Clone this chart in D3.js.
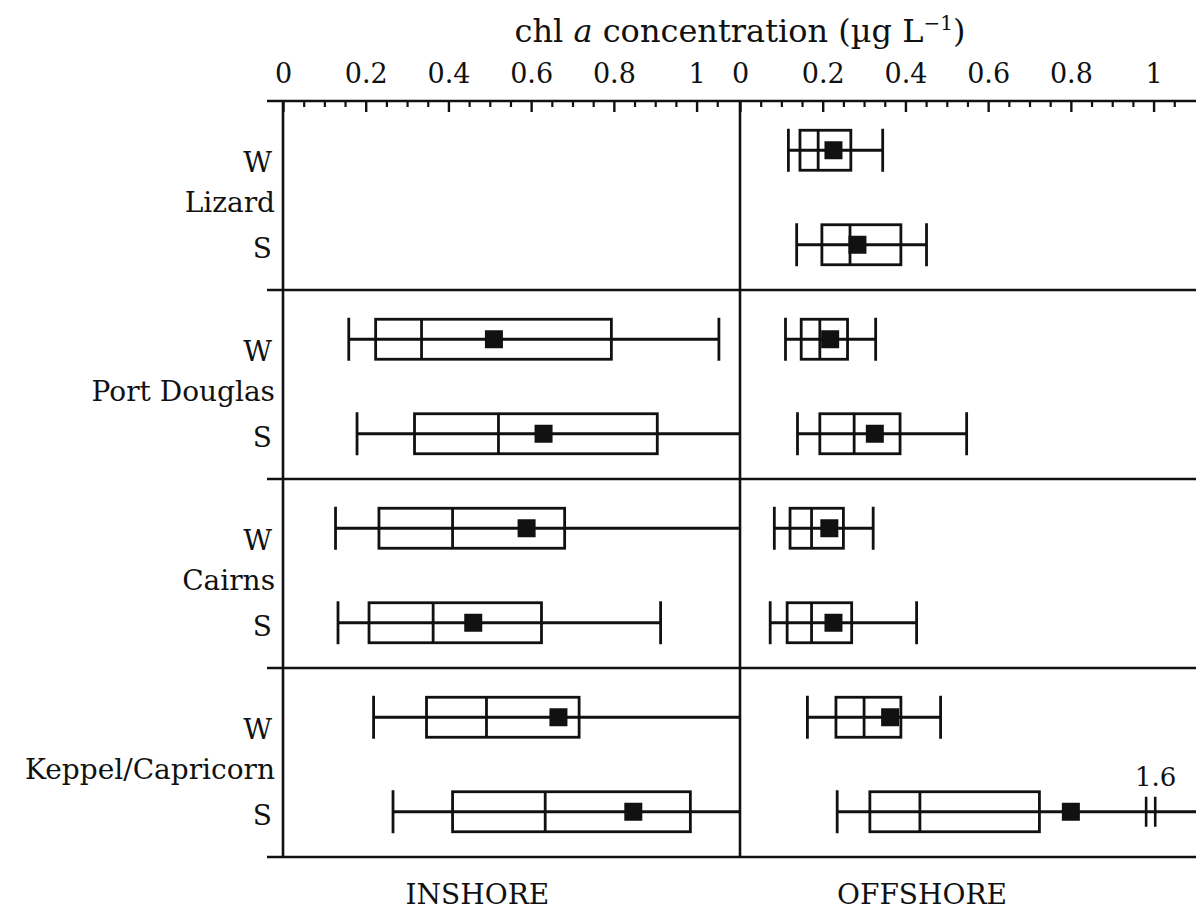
<!DOCTYPE html>
<html>
<head>
<meta charset="utf-8">
<script src="https://cdn.jsdelivr.net/npm/d3@7"></script>
<style>
  html, body { margin: 0; padding: 0; background: #fff; }
  svg text { font-family: "DejaVu Serif", serif; fill: #111; }
</style>
</head>
<body>
<script>
// ---------- data ----------
const groups = ["Lizard", "Port Douglas", "Cairns", "Keppel/Capricorn"];
const seasons = ["W", "S"];
const majorTicks = [0, 0.2, 0.4, 0.6, 0.8, 1];
const tickLabels = ["0", "0.2", "0.4", "0.6", "0.8", "1"];
const minorTicks = [0.05,0.1,0.15,0.25,0.3,0.35,0.45,0.5,0.55,0.65,0.7,0.75,0.85,0.9,0.95,1.05];
const panels = ["INSHORE", "OFFSHORE"];

// rows in order: Lizard W, Lizard S, Port Douglas W, S, Cairns W, S, Keppel W, S
const inshoreLow    = [null, null, 0.159, 0.179, 0.127, 0.133, 0.219, 0.266];
const inshoreQ1     = [null, null, 0.224, 0.318, 0.232, 0.208, 0.347, 0.410];
const inshoreMedian = [null, null, 0.335, 0.521, 0.410, 0.363, 0.492, 0.634];
const inshoreMean   = [null, null, 0.510, 0.630, 0.589, 0.460, 0.666, 0.847];
const inshoreQ3     = [null, null, 0.794, 0.905, 0.681, 0.625, 0.716, 0.985];
const inshoreHigh   = [null, null, 1.054, 1.2,   1.2,   0.913, 1.2,   1.2  ];

const offshoreLow    = [0.117, 0.137, 0.110, 0.139, 0.083, 0.073, 0.163, 0.235];
const offshoreQ1     = [0.145, 0.198, 0.148, 0.193, 0.121, 0.114, 0.232, 0.314];
const offshoreMedian = [0.189, 0.266, 0.193, 0.276, 0.173, 0.173, 0.300, 0.435];
const offshoreMean   = [0.226, 0.284, 0.218, 0.326, 0.216, 0.226, 0.363, 0.800];
const offshoreQ3     = [0.268, 0.389, 0.260, 0.387, 0.250, 0.270, 0.389, 0.724];
const offshoreHigh   = [0.345, 0.451, 0.328, 0.548, 0.322, 0.427, 0.485, 1.6  ];

// axis break (offshore Keppel/Capricorn S whisker reaches 1.6)
const breakRow = 7;
const breakAt = [0.982, 1.004];
const breakLabel = "1.6";

// ---------- layout ----------
const W = 1196, H = 911;
const yTop = 101, yBottom = 857;
const xMax = 1.105;

const svg = d3.select("body").append("svg").attr("width", W).attr("height", H);

const xIn  = d3.scaleLinear().domain([0, xMax]).range([283, 740]).clamp(true);
const xOff = d3.scaleLinear().domain([0, xMax]).range([740, 1197]).clamp(true);
const yGroup = d3.scaleBand().domain(groups).range([yTop, yBottom]);
const ySeason = d3.scalePoint().domain(seasons).range([0, yGroup.bandwidth()]).padding(0.5);

function rowY(i) {
  const g = groups[Math.floor(i / 2)], s = seasons[i % 2];
  return yGroup(g) + ySeason(s) + 2;
}

function makeRows(low, q1, med, mean, q3, high) {
  return low.map((d, i) => ({ i, low: d, q1: q1[i], med: med[i], mean: mean[i], q3: q3[i], high: high[i] }))
            .filter(d => d.low != null);
}
const inRows  = makeRows(inshoreLow, inshoreQ1, inshoreMedian, inshoreMean, inshoreQ3, inshoreHigh);
const offRows = makeRows(offshoreLow, offshoreQ1, offshoreMedian, offshoreMean, offshoreQ3, offshoreHigh);

// ---------- frame ----------
const frame = svg.append("g").attr("stroke", "#111").attr("stroke-width", 2.6);
const hLines = groups.map(g => yGroup(g)).concat([yBottom]);
frame.selectAll("line.h").data(hLines).join("line").attr("class", "h")
  .attr("x1", 267).attr("x2", W).attr("y1", d => d).attr("y2", d => d);
frame.selectAll("line.v").data([xIn(0), xOff(0)]).join("line").attr("class", "v")
  .attr("x1", d => d).attr("x2", d => d).attr("y1", yTop).attr("y2", yBottom);

// ---------- axes ----------
[xIn, xOff].forEach(x => {
  const gMaj = svg.append("g").attr("transform", `translate(0,${yTop})`)
    .call(d3.axisTop(x).tickValues(majorTicks).tickFormat((d, i) => tickLabels[i])
      .tickSizeInner(-11).tickSizeOuter(0).tickPadding(18));
  gMaj.select(".domain").remove();
  gMaj.selectAll(".tick line").attr("stroke", "#111").attr("stroke-width", 2.4);
  gMaj.selectAll(".tick text").attr("font-family", "DejaVu Serif").attr("font-size", 27).attr("fill", "#111");
  const gMin = svg.append("g").attr("transform", `translate(0,${yTop})`)
    .call(d3.axisTop(x).tickValues(minorTicks).tickFormat("").tickSizeInner(-6).tickSizeOuter(0));
  gMin.select(".domain").remove();
  gMin.selectAll(".tick line").attr("stroke", "#111").attr("stroke-width", 2.2);
});

// ---------- title ----------
const title = svg.append("text").attr("x", 740).attr("y", 42).attr("text-anchor", "middle")
  .attr("font-size", 32);
title.append("tspan").text("chl ");
title.append("tspan").attr("font-style", "italic").text("a");
title.append("tspan").text(" concentration (µg L");
title.append("tspan").attr("font-size", 20).attr("dy", -12).text("−1");
title.append("tspan").attr("dy", 12).text(")");

// ---------- row labels ----------
const lab = svg.append("g").attr("font-size", 28).attr("text-anchor", "end");
groups.forEach(g => {
  const y0 = yGroup(g), bw = yGroup.bandwidth();
  lab.append("text").attr("x", 272).attr("y", y0 + bw * 0.32).attr("dy", "0.36em").text(seasons[0]);
  lab.append("text").attr("x", 275).attr("y", y0 + bw * 0.532).attr("dy", "0.36em").text(g);
  lab.append("text").attr("x", 272).attr("y", y0 + bw * 0.778).attr("dy", "0.36em").text(seasons[1]);
});

// ---------- panel labels ----------
svg.append("g").attr("font-size", 28).attr("text-anchor", "middle")
  .selectAll("text").data(panels).join("text")
  .attr("x", (d, i) => (i === 0 ? xIn(0.47) : xOff(0.44)))
  .attr("y", 904).text(d => d);

// ---------- box plots ----------
const boxH = 40, capH = 43, meanS = 18;
function drawPanel(rows, x, isOff) {
  const g = svg.append("g").attr("stroke", "#111").attr("stroke-width", 2.8).attr("fill", "none");
  const r = g.selectAll("g").data(rows).join("g");
  r.append("line").attr("x1", d => x(d.low)).attr("x2", d => x(d.high))
    .attr("y1", d => rowY(d.i)).attr("y2", d => rowY(d.i));
  r.append("line").attr("x1", d => x(d.low)).attr("x2", d => x(d.low))
    .attr("y1", d => rowY(d.i) - capH / 2).attr("y2", d => rowY(d.i) + capH / 2);
  r.filter(d => d.high <= xMax && !(isOff && d.i === breakRow)).append("line")
    .attr("x1", d => x(d.high)).attr("x2", d => x(d.high))
    .attr("y1", d => rowY(d.i) - capH / 2).attr("y2", d => rowY(d.i) + capH / 2);
  r.append("rect").attr("x", d => x(d.q1)).attr("width", d => x(d.q3) - x(d.q1))
    .attr("y", d => rowY(d.i) - boxH / 2).attr("height", boxH).attr("fill", "none");
  r.append("line").attr("x1", d => x(d.med)).attr("x2", d => x(d.med))
    .attr("y1", d => rowY(d.i) - boxH / 2).attr("y2", d => rowY(d.i) + boxH / 2);
  r.append("rect").attr("x", d => x(d.mean) - meanS / 2).attr("y", d => rowY(d.i) - meanS / 2)
    .attr("width", meanS).attr("height", meanS).attr("fill", "#111").attr("stroke", "none");
}
drawPanel(inRows, xIn, false);
drawPanel(offRows, xOff, true);

// ---------- axis break ----------
const yb = rowY(breakRow);
svg.append("g").attr("stroke", "#111").attr("stroke-width", 2.6)
  .selectAll("line").data(breakAt).join("line")
  .attr("x1", d => xOff(d)).attr("x2", d => xOff(d))
  .attr("y1", yb - 15).attr("y2", yb + 15);
svg.append("text").attr("x", xOff(d3.mean(breakAt)) + 5).attr("y", yb - 26)
  .attr("text-anchor", "middle").attr("font-size", 26).text(breakLabel);
</script>
</body>
</html>
